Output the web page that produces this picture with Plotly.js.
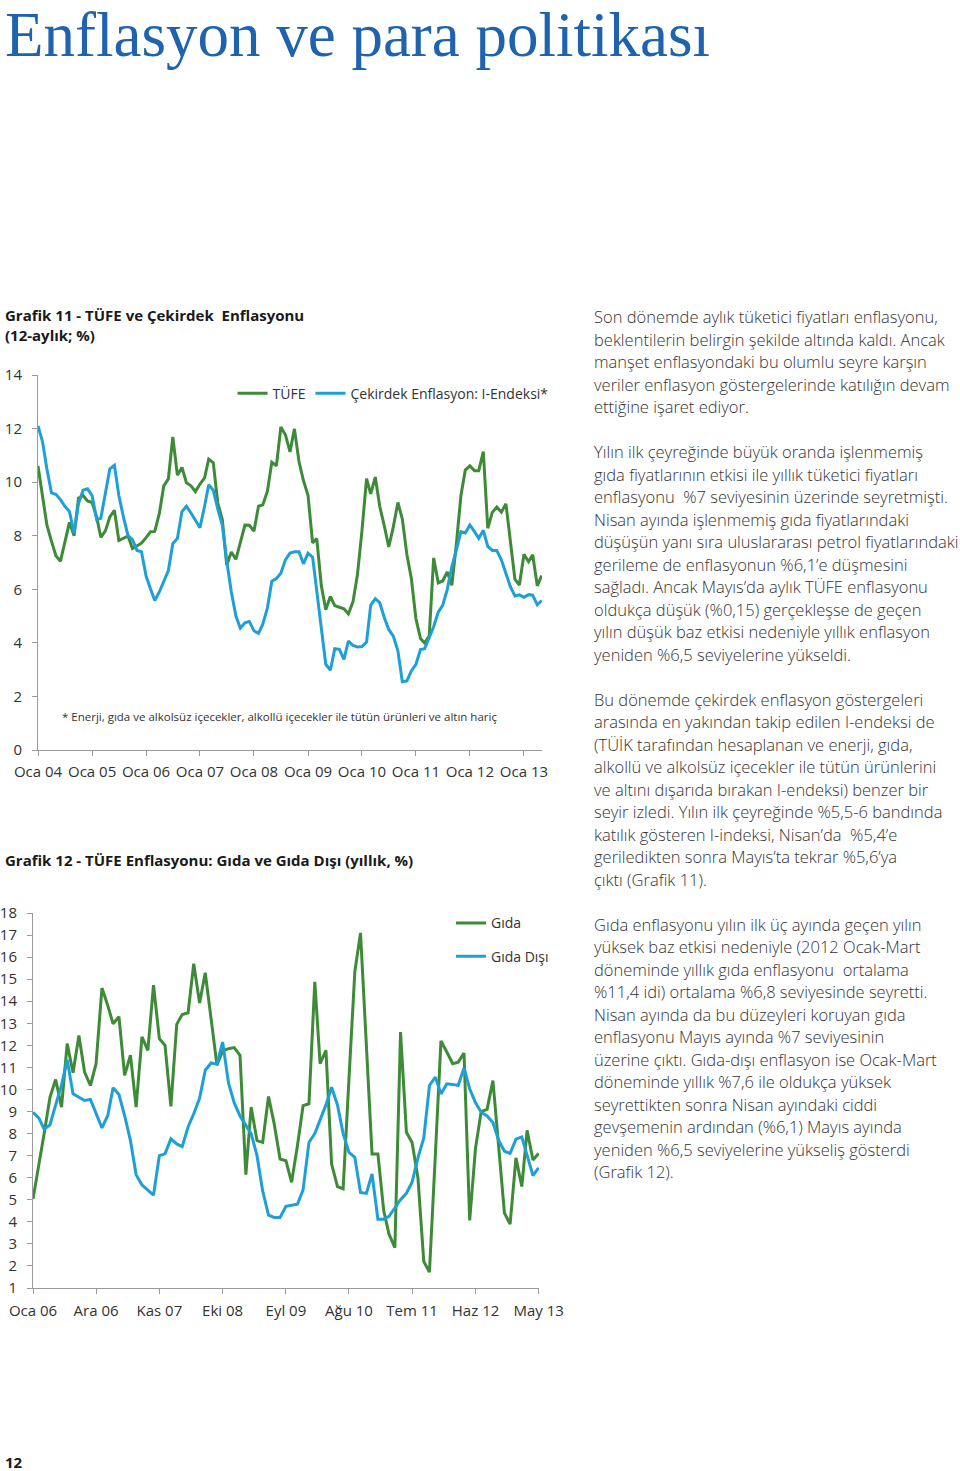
<!DOCTYPE html>
<html>
<head>
<meta charset="utf-8">
<script src="https://cdn.plot.ly/plotly-3.0.1.min.js"></script>
<style>
  body{margin:0;width:960px;height:1471px;position:relative;background:#fff;overflow:hidden;font-family:'Open Sans',sans-serif;color:#333}
  #pageTitle{position:absolute;left:5px;top:4px;font-family:'Liberation Serif',serif;font-size:63px;color:#1f63ae;white-space:nowrap;line-height:63px}
  .ctitle{position:absolute;left:5px;font-weight:bold;font-size:15px;color:#1a1a1a;line-height:15px;white-space:nowrap}
  #bodyText{position:absolute;left:594px;top:306px;font-size:16.5px;line-height:22.5px;font-weight:300;color:#333;white-space:nowrap}
  #pageNum{position:absolute;left:5px;top:1452px;font-weight:bold;font-size:15px;color:#1a1a1a}
  .chart{position:absolute;left:0}
</style>
</head>
<body>
<div id="pageTitle">Enflasyon ve para politikası</div>

<div class="ctitle" style="top:308px">Grafik 11 - TÜFE ve Çekirdek&nbsp; Enflasyonu</div>
<div class="ctitle" style="top:328px">(12-aylık; %)</div>
<div id="chart1" class="chart" style="top:360px;width:570px;height:430px"></div>

<div class="ctitle" style="top:853px">Grafik 12 - TÜFE Enflasyonu: Gıda ve Gıda Dışı (yıllık, %)</div>
<div id="chart2" class="chart" style="top:888px;width:590px;height:442px"></div>

<div id="bodyText">Son dönemde aylık tüketici fiyatları enflasyonu,<br>
beklentilerin belirgin şekilde altında kaldı. Ancak<br>
manşet enflasyondaki bu olumlu seyre karşın<br>
veriler enflasyon göstergelerinde katılığın devam<br>
ettiğine işaret ediyor.<br>
<br>
Yılın ilk çeyreğinde büyük oranda işlenmemiş<br>
gıda fiyatlarının etkisi ile yıllık tüketici fiyatları<br>
enflasyonu &nbsp;%7 seviyesinin üzerinde seyretmişti.<br>
Nisan ayında işlenmemiş gıda fiyatlarındaki<br>
düşüşün yanı sıra uluslararası petrol fiyatlarındaki<br>
gerileme de enflasyonun %6,1’e düşmesini<br>
sağladı. Ancak Mayıs’da aylık TÜFE enflasyonu<br>
oldukça düşük (%0,15) gerçekleşse de geçen<br>
yılın düşük baz etkisi nedeniyle yıllık enflasyon<br>
yeniden %6,5 seviyelerine yükseldi.<br>
<br>
Bu dönemde çekirdek enflasyon göstergeleri<br>
arasında en yakından takip edilen I-endeksi de<br>
(TÜİK tarafından hesaplanan ve enerji, gıda,<br>
alkollü ve alkolsüz içecekler ile tütün ürünlerini<br>
ve altını dışarıda bırakan I-endeksi) benzer bir<br>
seyir izledi. Yılın ilk çeyreğinde %5,5-6 bandında<br>
katılık gösteren I-indeksi, Nisan’da &nbsp;%5,4’e<br>
geriledikten sonra Mayıs’ta tekrar %5,6’ya<br>
çıktı (Grafik 11).<br>
<br>
Gıda enflasyonu yılın ilk üç ayında geçen yılın<br>
yüksek baz etkisi nedeniyle (2012 Ocak-Mart<br>
döneminde yıllık gıda enflasyonu &nbsp;ortalama<br>
%11,4 idi) ortalama %6,8 seviyesinde seyretti.<br>
Nisan ayında da bu düzeyleri koruyan gıda<br>
enflasyonu Mayıs ayında %7 seviyesinin<br>
üzerine çıktı. Gıda-dışı enflasyon ise Ocak-Mart<br>
döneminde yıllık %7,6 ile oldukça yüksek<br>
seyrettikten sonra Nisan ayındaki ciddi<br>
gevşemenin ardından (%6,1) Mayıs ayında<br>
yeniden %6,5 seviyelerine yükseliş gösterdi<br>
(Grafik 12).</div>

<div id="pageNum">12</div>

<script>
// ---------- Grafik 11 data (Jan 2004 - May 2013, monthly) ----------
const tufe = [
  10.6, 9.4, 8.4, 7.8, 7.25, 7.05, 7.8, 8.5, 8.0, 9.4, 9.5, 9.3,
  9.24, 8.69, 7.94, 8.18, 8.70, 8.95, 7.82, 7.91, 7.99, 7.52, 7.61, 7.72,
  7.93, 8.15, 8.16, 8.83, 9.86, 10.12, 11.69, 10.26, 10.55, 9.98, 9.86, 9.65,
  9.93, 10.16, 10.86, 10.72, 9.23, 8.60, 6.90, 7.39, 7.12, 7.70, 8.40, 8.39,
  8.17, 9.10, 9.15, 9.66, 10.74, 10.61, 12.06, 11.77, 11.13, 11.99, 10.76, 10.06,
  9.50, 7.73, 7.89, 6.13, 5.24, 5.73, 5.39, 5.33, 5.27, 5.08, 5.53, 6.53,
  8.19, 10.13, 9.56, 10.19, 9.10, 8.37, 7.58, 8.33, 9.24, 8.62, 7.29, 6.40,
  4.90, 4.16, 3.99, 4.26, 7.17, 6.24, 6.31, 6.65, 6.15, 7.66, 9.48, 10.45,
  10.61, 10.43, 10.43, 11.14, 8.28, 8.87, 9.07, 8.88, 9.19, 7.80, 6.37, 6.16,
  7.31, 7.03, 7.29, 6.13, 6.51
];
const cekirdekI = [
  12.1, 11.5, 10.5, 9.6, 9.55, 9.35, 9.1, 8.9, 8.1, 9.2, 9.7, 9.75,
  9.5, 8.6, 8.65, 9.6, 10.5, 10.63, 9.5, 8.7, 8.0, 7.85, 7.45, 7.4,
  6.5, 6.0, 5.58, 5.9, 6.3, 6.7, 7.7, 7.9, 8.9, 9.1, 8.85, 8.6,
  8.3, 9.1, 9.9, 9.7, 9.0, 8.4, 7.05, 5.9, 5.0, 4.55, 4.75, 4.8,
  4.45, 4.35, 4.7, 5.3, 6.3, 6.4, 6.6, 7.1, 7.35, 7.4, 7.4, 6.95,
  7.35, 7.2, 5.95, 4.45, 3.2, 2.98, 3.78, 3.76, 3.38, 4.07, 3.9, 3.85,
  3.86, 4.03, 5.4, 5.65, 5.5, 4.95, 4.5, 4.25, 3.7, 2.55, 2.58, 2.95,
  3.2, 3.75, 3.78, 4.2, 4.6, 5.15, 5.4, 6.0, 6.85, 7.45, 8.15, 8.1,
  8.4, 8.15, 7.9, 8.2, 7.6, 7.45, 7.45, 7.1, 6.6, 6.1, 5.75, 5.79,
  5.7, 5.8, 5.78, 5.42, 5.58
];
const tickDates1 = ['2004-01-01','2005-01-01','2006-01-01','2007-01-01','2008-01-01','2009-01-01','2010-01-01','2011-01-01','2012-01-01','2013-01-01'];
const tickLabels1 = ['Oca 04','Oca 05','Oca 06','Oca 07','Oca 08','Oca 09','Oca 10','Oca 11','Oca 12','Oca 13'];
const seriesNames1 = ['TÜFE','Çekirdek Enflasyon: I-Endeksi*'];
const footnote1 = '* Enerji, gıda ve alkolsüz içecekler, alkollü içecekler ile tütün ürünleri ve altın hariç';

// ---------- Grafik 12 data (Jan 2006 - May 2013, monthly) ----------
const gida = [
  5.03, 6.5, 8.0, 9.65, 10.45, 9.2, 12.08, 10.76, 12.45, 10.79, 10.18, 11.17,
  14.6, 13.8, 12.98, 13.3, 10.64, 11.55, 9.2, 12.38, 11.77, 14.73, 12.3, 12.0,
  9.23, 12.95, 13.4, 13.47, 15.7, 13.92, 15.29, 13.2, 11.1, 11.75, 11.85, 11.9,
  11.55, 6.14, 9.2, 7.68, 7.6, 9.68, 8.44, 6.85, 6.77, 5.79, 7.45, 9.27,
  9.35, 14.88, 11.17, 11.77, 6.62, 5.6, 5.5, 10.5, 15.35, 17.1, 12.0, 7.08,
  7.08, 4.5, 3.44, 2.83, 12.6, 8.06, 7.6, 6.0, 2.2, 1.72, 7.0, 12.2,
  11.7, 11.17, 11.24, 11.65, 4.06, 7.35, 9.0, 9.1, 10.4, 7.3, 4.4, 3.9,
  6.9, 5.6, 8.15, 6.8, 7.1
];
const gidaDisi = [
  8.97, 8.7, 8.2, 8.4, 9.3, 10.2, 11.35, 9.8, 9.65, 9.5, 9.55, 8.9,
  8.26, 8.82, 10.08, 9.77, 8.82, 7.68, 6.14, 5.67, 5.45, 5.21, 7.0, 7.08,
  7.76, 7.53, 7.41, 8.3, 8.9, 9.6, 10.87, 11.2, 11.15, 12.15, 10.3, 9.4,
  8.8, 8.4, 8.0, 7.0, 5.4, 4.3, 4.2, 4.2, 4.7, 4.75, 4.8, 5.45,
  7.6, 8.0, 8.6, 9.3, 10.1, 9.3, 8.0, 7.15, 6.92, 5.33, 5.29, 6.17,
  4.12, 4.12, 4.25, 4.65, 5.0, 5.3, 5.8, 6.9, 7.8, 10.18, 10.56, 9.8,
  10.26, 10.23, 10.18, 10.98, 10.03, 9.4, 8.97, 8.8, 8.5, 7.7, 7.2, 7.1,
  7.75, 7.85, 7.0, 6.1, 6.45
];
const tickDates2 = ['2006-01-01','2006-12-01','2007-11-01','2008-10-01','2009-09-01','2010-08-01','2011-07-01','2012-06-01','2013-05-01'];
const tickLabels2 = ['Oca 06','Ara 06','Kas 07','Eki 08','Eyl 09','Ağu 10','Tem 11','Haz 12','May 13'];
const seriesNames2 = ['Gıda','Gıda Dışı'];

// month-start date categories
function monthDates(y0, m0, n){
  const out = [];
  for (let i = 0; i < n; i++){
    const t = m0 - 1 + i;
    const y = y0 + Math.floor(t / 12);
    const mm = (t % 12) + 1;
    out.push(y + '-' + String(mm).padStart(2,'0') + '-01');
  }
  return out;
}
const months1 = monthDates(2004, 1, tufe.length);
const months2 = monthDates(2006, 1, gida.length);

const GREEN = '#3d8b37';
const BLUE = '#1ea0d6';
const AX = '#9a9a9a';
const FONT = {family:'Open Sans, sans-serif', size:15, color:'#333'};

const cfg = {displayModeBar:false, staticPlot:true};

Plotly.newPlot('chart1', [
  {x: months1, y: tufe, type:'scatter', mode:'lines', name: seriesNames1[0], line:{color:GREEN, width:3}},
  {x: months1, y: cekirdekI, type:'scatter', mode:'lines', name: seriesNames1[1], line:{color:BLUE, width:3}}
], {
  width:570, height:430,
  margin:{l:38, r:28, t:15, b:40},
  paper_bgcolor:'rgba(0,0,0,0)', plot_bgcolor:'rgba(0,0,0,0)',
  font: FONT,
  showlegend:true,
  legend:{orientation:'h', x:0.386, xanchor:'left', y:0.95, yanchor:'middle', itemwidth:30, font:{size:14, color:'#333'}, bgcolor:'rgba(0,0,0,0)'},
  xaxis:{type:'date', range:['2004-01-01','2013-05-03'], tickmode:'array', tickvals:tickDates1, ticktext:tickLabels1, tickangle:0,
         showline:true, linecolor:AX, linewidth:1, ticks:'outside', ticklen:5, tickcolor:AX, showgrid:false, zeroline:false, ticklabelstandoff:3},
  yaxis:{range:[0,14], dtick:2, showline:true, linecolor:AX, linewidth:1, ticks:'outside', ticklen:5, tickcolor:AX, showgrid:false, zeroline:false, ticklabelstandoff:7},
  annotations:[{xref:'paper', yref:'paper', x:0.044, y:0.09, xanchor:'left', yanchor:'middle', showarrow:false, text:footnote1, font:{size:11.5, color:'#333'}}]
}, cfg);

Plotly.newPlot('chart2', [
  {x: months2, y: gida, type:'scatter', mode:'lines', name: seriesNames2[0], legendgroup:'g1', line:{color:GREEN, width:3}},
  {x: months2, y: gidaDisi, type:'scatter', mode:'lines', name: seriesNames2[1], legendgroup:'g2', line:{color:BLUE, width:3}}
], {
  width:590, height:442,
  margin:{l:33, r:51, t:25, b:42},
  paper_bgcolor:'rgba(0,0,0,0)', plot_bgcolor:'rgba(0,0,0,0)',
  font: FONT,
  showlegend:true,
  legend:{orientation:'v', x:0.826, xanchor:'left', y:1.015, yanchor:'top', itemwidth:30, tracegroupgap:12, font:{size:14, color:'#333'}, bgcolor:'rgba(0,0,0,0)'},
  xaxis:{type:'date', range:['2006-01-01','2013-05-03'], tickmode:'array', tickvals:tickDates2, ticktext:tickLabels2, tickangle:0,
         showline:true, linecolor:AX, linewidth:1, ticks:'outside', ticklen:5, tickcolor:AX, showgrid:false, zeroline:false, ticklabelstandoff:4},
  yaxis:{range:[1,18], dtick:1, showline:true, linecolor:AX, linewidth:1, ticks:'outside', ticklen:5, tickcolor:AX, showgrid:false, zeroline:false, ticklabelstandoff:7}
}, cfg);
</script>
</body>
</html>
